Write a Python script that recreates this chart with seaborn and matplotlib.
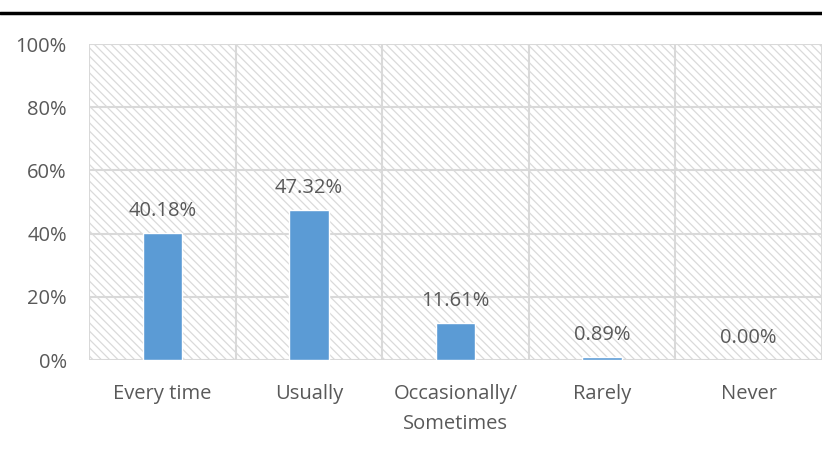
import matplotlib
matplotlib.use("Agg")
import matplotlib.pyplot as plt
import seaborn as sns
import pandas as pd
from matplotlib.patches import Rectangle
from matplotlib.lines import Line2D
from matplotlib.ticker import FuncFormatter

categories = ["Every time", "Usually", "Occasionally/\nSometimes", "Rarely", "Never"]
values = [40.18, 47.32, 11.61, 0.89, 0.00]
value_labels = ["40.18%", "47.32%", "11.61%", "0.89%", "0.00%"]
yticks = [0, 20, 40, 60, 80, 100]

sns.set_theme(style="white")
plt.rcParams['font.family'] = ['Open Sans', 'DejaVu Sans']
plt.rcParams['hatch.linewidth'] = 0.9
plt.rcParams['hatch.color'] = '#dadada'

text_color = '#595959'
grid_color = '#d9d9d9'
bar_color = '#5B9BD5'
fs = 14.5

fig = plt.figure(figsize=(8.22, 4.5), dpi=100)
ax = fig.add_axes([89/822, 1 - 360/450, (822 - 89)/822, (360 - 44)/450])

df = pd.DataFrame({"cat": categories, "val": values})
sns.barplot(data=df, x="cat", y="val", color=bar_color, width=0.27,
            saturation=1, ax=ax, zorder=3)

ax.set_xlim(-0.5, 4.5)
ax.set_ylim(0, 100)

# hatched background
bg = Rectangle((0, 0), 1, 1, transform=ax.transAxes, facecolor='white',
               edgecolor='#dadada', hatch='\\\\\\\\', linewidth=0, zorder=0)
ax.add_patch(bg)

# gridlines
for y in yticks:
    ax.axhline(y, color=grid_color, lw=1.5, zorder=1)
for xb in [-0.5, 0.5, 1.5, 2.5, 3.5, 4.5]:
    ax.axvline(xb, color=grid_color, lw=1.5, zorder=1)

for s in ax.spines.values():
    s.set_visible(False)

ax.set_yticks(yticks)
ax.yaxis.set_major_formatter(FuncFormatter(lambda v, p: f"{int(v)}%"))
ax.tick_params(axis='y', length=0, pad=16, labelsize=fs, labelcolor=text_color)
ax.tick_params(axis='x', length=0, pad=17, labelsize=fs, labelcolor=text_color)
for t in ax.get_xticklabels():
    t.set_linespacing(1.72)
ax.set_xlabel("")
ax.set_ylabel("")

for i, (v, lab) in enumerate(zip(values, value_labels)):
    ax.annotate(lab, (i, v), xytext=(0, 16), textcoords='offset points',
                ha='center', va='center', fontsize=fs, color=text_color, zorder=4)

fig.add_artist(Line2D([0, 1], [1 - 13/450, 1 - 13/450], transform=fig.transFigure,
                      color='black', lw=2.5))

fig.savefig("out.png", dpi=100)
